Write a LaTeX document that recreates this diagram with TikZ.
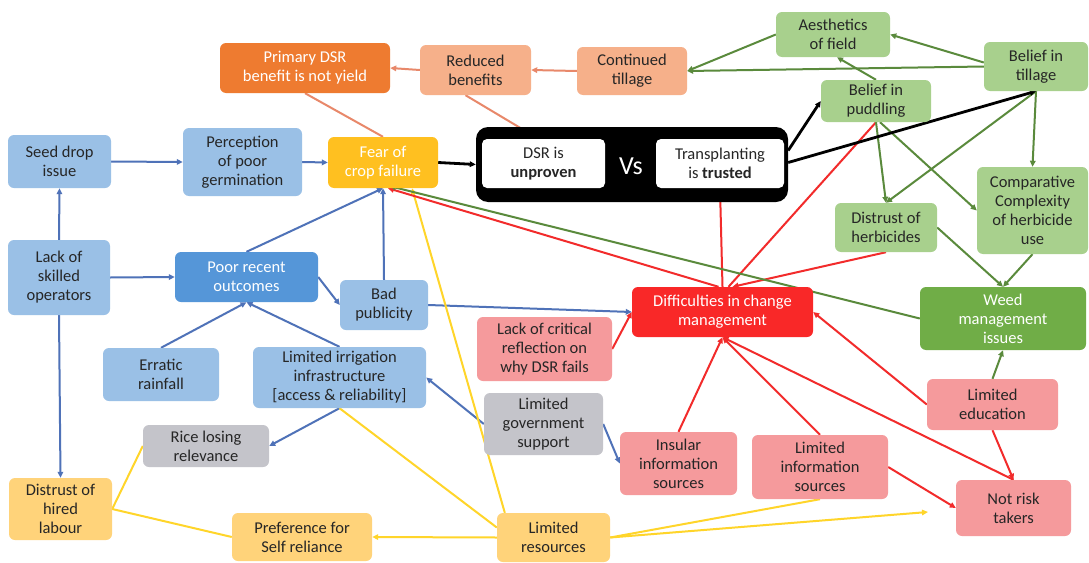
\documentclass[tikz,border=0pt]{standalone}
\usepackage{fontspec}
\setmainfont{Carlito}
\usetikzlibrary{arrows.meta}
\pgfdeclarelayer{bg}
\pgfsetlayers{bg,main}
\definecolor{lblue}{HTML}{9AC0E6}
\definecolor{mblue}{HTML}{5596D8}
\definecolor{greyf}{HTML}{C4C4CA}
\definecolor{lorange}{HTML}{FFD37A}
\definecolor{fearc}{HTML}{FFC020}
\definecolor{primc}{HTML}{EE7B30}
\definecolor{salmc}{HTML}{F6B08A}
\definecolor{lgreenc}{HTML}{A8D08D}
\definecolor{dgreenc}{HTML}{70AD47}
\definecolor{diffc}{HTML}{F92828}
\definecolor{pinkc}{HTML}{F59A9C}
\definecolor{txt}{HTML}{262626}
\definecolor{eblue}{HTML}{4F72B8}
\definecolor{eyellow}{HTML}{FFD52A}
\definecolor{ered}{HTML}{F22B2B}
\definecolor{egreen}{HTML}{5A8A3C}
\definecolor{esalm}{HTML}{E8886A}
\newcommand\fsz{\fontsize{16.5}{19}\selectfont}
\newcommand\mkbox[7][]{\node[#1,minimum width={#4-#2},minimum height={#5-#3}] (#6) at ({(#2+#4)/2},{(#3+#5)/2}) {#7};}
\tikzset{
  base/.style={rounded corners=6pt, align=center, inner sep=1pt, font=\fsz, text=txt},
  lb/.style={base, fill=lblue},
  mb/.style={base, fill=mblue, text=white},
  greybox/.style={base, fill=greyf},
  lor/.style={base, fill=lorange},
  fearst/.style={base, fill=fearc, text=white},
  primst/.style={base, fill=primc, text=white},
  salm/.style={base, fill=salmc},
  lgreen/.style={base, fill=lgreenc},
  dgreen/.style={base, fill=dgreenc, text=white},
  diffst/.style={base, fill=diffc, text=white},
  pinkbox/.style={base, fill=pinkc},
  blackbox/.style={base, fill=black, rounded corners=12pt},
  wbox/.style={base, fill=white, rounded corners=5pt},
  tip/.style={-{Triangle[length=6pt,width=5.5pt]}},
  eb/.style={draw=eblue, line width=2pt},
  ey/.style={draw=eyellow, line width=2pt},
  er/.style={draw=ered, line width=2pt},
  eg/.style={draw=egreen, line width=2pt},
  es/.style={draw=esalm, line width=2pt},
  ek/.style={draw=black, line width=2.8pt},
}
\begin{document}
\begin{tikzpicture}[x=1pt,y=-1pt]
\begin{pgfonlayer}{bg}
\fill[white] (0,0) rectangle (1089,562);
\end{pgfonlayer}
\useasboundingbox (0,0) rectangle (1089,562);
% nodes
\mkbox[primst]{220}{43}{390}{93}{prim}{Primary DSR\\benefit is not yield}
\mkbox[salm]{420}{45}{531}{95}{redb}{Reduced\\benefits}
\mkbox[salm]{577}{47}{687}{95}{cont}{Continued\\tillage}
\mkbox[lgreen]{776}{12}{890}{57}{aest}{Aesthetics\\of field}
\mkbox[lgreen]{984}{42}{1088}{91}{btil}{Belief in\\tillage}
\mkbox[lgreen]{821}{80}{931}{122}{bpud}{Belief in\\puddling}
\mkbox[lgreen]{977}{167}{1088}{254}{comp}{Comparative\\Complexity\\of herbicide\\use}
\mkbox[lgreen]{835}{203}{937}{252}{dher}{Distrust of\\herbicides}
\mkbox[dgreen]{920}{287}{1086}{350}{weed}{Weed\\management\\issues}
\mkbox[blackbox]{476}{127}{788}{202}{blk}{}
\mkbox[wbox]{482}{139}{605}{188}{dsr}{DSR is\\\textbf{unproven}}
\mkbox[wbox]{656}{139}{784}{188}{trans}{Transplanting\\is \textbf{trusted}}
\node[font=\fontsize{26}{28}\selectfont, text=white, inner sep=0pt] (vs) at (631,166) {Vs};
\mkbox[fearst]{328}{137}{438}{188}{fear}{Fear of\\crop failure}
\mkbox[lb]{8}{135}{111}{188}{seed}{Seed drop\\issue}
\mkbox[lb]{183}{128}{302}{196}{perc}{Perception\\of poor\\germination}
\mkbox[lb]{8}{240}{110}{315}{lack}{Lack of\\skilled\\operators}
\mkbox[mb]{175}{252}{318}{302}{poor}{Poor recent\\outcomes}
\mkbox[lb]{340}{280}{428}{330}{bad}{Bad\\publicity}
\mkbox[lb]{103}{348}{219}{401}{errat}{Erratic\\rainfall}
\mkbox[lb]{253}{347}{426}{408}{irr}{Limited irrigation\\infrastructure\\{[access \& reliability]}}
\mkbox[greybox]{484}{393}{603}{455}{gov}{Limited\\government\\support}
\mkbox[greybox]{143}{425}{269}{467}{rice}{Rice losing\\relevance}
\mkbox[lor]{9}{478}{112}{540}{dhl}{Distrust of\\hired\\labour}
\mkbox[lor]{232}{513}{372}{561}{pref}{Preference for\\Self reliance}
\mkbox[lor]{497}{513}{610}{562}{lres}{Limited\\resources}
\mkbox[diffst]{632}{287}{813}{337}{diff}{Difficulties in change\\management}
\mkbox[pinkbox]{477}{317}{612}{381}{lcr}{Lack of critical\\reflection on\\why DSR fails}
\mkbox[pinkbox]{620}{432}{737}{495}{ins}{Insular\\information\\sources}
\mkbox[pinkbox]{752}{435}{888}{499}{linf}{Limited\\information\\sources}
\mkbox[pinkbox]{927}{379}{1058}{430}{ledu}{Limited\\education}
\mkbox[pinkbox]{956}{480}{1071}{536}{nrt}{Not risk\\takers}
\coordinate (nrtin) at (928,512);
% edges
\begin{pgfonlayer}{bg}
% blue
\draw[eb,tip] (seed.east) -- (perc.west);
\draw[eb,tip] (perc.east) -- (fear.west);
\draw[eb,tip] (lack.north) -- (seed.south);
\draw[eb,tip] (lack.east) -- (poor.west);
\draw[eb,tip] (lack.south) -- (dhl.north);
\draw[eb,tip] (poor.north) -- (fear.south);
\draw[eb,tip] (poor.east) -- (bad.west);
\draw[eb,tip] (bad.north) -- (fear.south);
\draw[eb,tip] (bad.east) -- (diff.west);
\draw[eb,tip] (errat.north) -- (poor.south);
\draw[eb,tip] (irr.north) -- (poor.south);
\draw[eb,tip] (gov.west) -- (irr.east);
\draw[eb,tip] (gov.east) -- (ins.west);
\draw[eb,tip] (irr.south) -- (rice.east);
% yellow
\draw[ey] (rice.west) -- (dhl.east);
\draw[ey] (pref.west) -- (dhl.east);
\draw[ey,tip] (lres.west) -- (pref.east);
\draw[ey,tip] ([xshift=8pt]lres.north west) -- ([xshift=29pt]fear.south);
\draw[ey] ([yshift=10pt]lres.west) -- (irr.south);
\draw[ey] (lres.east) -- (linf.south);
\draw[ey,tip] (lres.east) -- (nrtin);
% red
\draw[er,tip] (diff.north) -- (trans.south);
\draw[er] ([xshift=6pt]diff.north) -- (bpud.south);
\draw[er,tip] ([xshift=-4pt]diff.north) -- ([xshift=5pt]fear.south);
\draw[er,tip] (dher.south) -- ([xshift=10pt]diff.north);
\draw[er,tip] (lcr.east) -- (diff.west);
\draw[er,tip] (ins.north) -- (diff.south);
\draw[er,tip] (linf.north) -- (diff.south);
\draw[er,tip] (nrt.north) -- (diff.south);
\draw[er,tip] (ledu.west) -- (diff.east);
\draw[er,tip] (ledu.south) -- (nrt.north);
\draw[er,tip] (linf.east) -- (nrt.west);
% green
\draw[eg,tip] (btil.west) -- (cont.east);
\draw[eg,tip] ([yshift=4pt]btil.west) -- (aest.east);
\draw[eg,tip] (aest.west) -- (cont.east);
\draw[eg,tip] (bpud.north) -- ([xshift=4pt]aest.south);
\draw[eg,tip] (bpud.south) -- (dher.north);
\draw[eg,tip] ([xshift=4pt]bpud.south) -- (comp.west);
\draw[eg,tip] (btil.south) -- (dher.north);
\draw[eg,tip] (btil.south) -- (comp.north);
\draw[eg,tip] (dher.east) -- (weed.north);
\draw[eg,tip] (comp.south) -- (weed.north);
\draw[eg,tip] (ledu.north) -- (weed.south);
\draw[eg,tip] (weed.west) -- ([xshift=7pt,yshift=2pt]fear.south);
% black
\draw[ek,tip] (fear.east) -- (blk.west);
\draw[ek,tip] ([yshift=14pt]blk.east) -- (bpud.west);
\draw[ek,tip] ([yshift=2pt]blk.east) -- (btil.south);
% salmon
\draw[es,tip] (cont.west) -- (redb.east);
\draw[es,tip] (redb.west) -- (prim.east);
\draw[es] (prim.south) -- (fear.north);
\draw[es,tip] ([xshift=-10pt]redb.south) -- ([xshift=-5pt]dsr.north);
\end{pgfonlayer}
\end{tikzpicture}
\end{document}
